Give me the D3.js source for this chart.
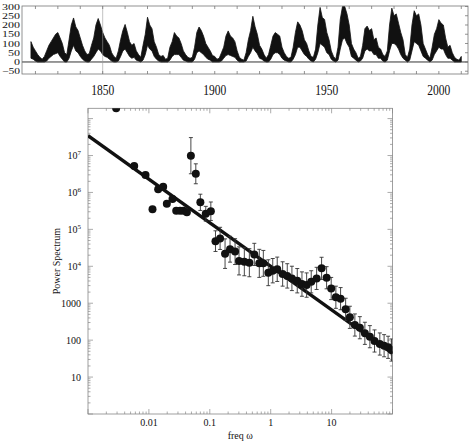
<!DOCTYPE html>
<html>
<head>
<meta charset="utf-8">
<script src="https://cdn.jsdelivr.net/npm/d3@7"></script>
<style>
  body { margin: 0; background: #fff; }
  text { font-family: "Liberation Serif", "DejaVu Serif", serif; fill: #111; }
</style>
</head>
<body>
<svg id="chart" width="470" height="443"></svg>
<script>
// ---- top panel: yearly sunspot number envelope (monthly max / min), 1818-2010
const firstYear = 1818;
const spotHigh = [
  110, 80, 60, 40, 25, 15, 30, 60, 90, 110, 130, 150, 159, 130, 100, 50, 40, 120, 200, 238,
  190, 170, 130, 90, 60, 40, 45, 90, 130, 200, 235, 200, 160, 130, 110, 90, 50, 30, 20, 60,
  120, 170, 203, 160, 110, 90, 100, 60, 40, 25, 90, 150, 242, 200, 180, 110, 80, 40, 30, 35,
  15, 20, 80, 110, 159, 140, 130, 100, 60, 40, 25, 20, 25, 80, 160, 189, 170, 140, 100, 80,
  60, 35, 30, 15, 20, 50, 80, 140, 168, 140, 130, 110, 60, 25, 15, 10, 50, 120, 170, 247,
  190, 150, 90, 70, 40, 20, 40, 90, 140, 159, 150, 140, 80, 50, 30, 20, 25, 80, 160, 217,
  200, 170, 120, 100, 60, 30, 25, 70, 200, 295, 240, 230, 160, 120, 60, 30, 15, 80, 230, 300,
  300, 260, 200, 100, 70, 50, 20, 30, 90, 180, 194, 170, 180, 120, 130, 80, 70, 40, 30, 60,
  200, 291, 250, 260, 210, 160, 120, 40, 25, 70, 200, 277, 250, 260, 200, 100, 70, 40, 20, 80,
  150, 180, 229, 210, 200, 130, 80, 90, 50, 25, 15, 10, 30
];
const spotLow = [
  20, 15, 5, 0, 0, 0, 0, 5, 20, 30, 40, 45, 50, 30, 15, 0, 0, 20, 60, 90,
  60, 50, 30, 15, 5, 0, 0, 15, 30, 50, 70, 60, 40, 30, 25, 15, 5, 0, 0, 5,
  30, 60, 70, 50, 30, 20, 25, 10, 5, 0, 10, 40, 90, 70, 60, 30, 15, 5, 0, 0,
  0, 0, 10, 30, 40, 40, 40, 25, 10, 5, 0, 0, 0, 15, 50, 60, 50, 40, 25, 15,
  10, 0, 0, 0, 0, 5, 20, 35, 40, 35, 30, 25, 10, 0, 0, 0, 5, 30, 50, 80,
  60, 45, 20, 15, 5, 0, 0, 15, 40, 50, 50, 40, 20, 10, 5, 0, 0, 15, 40, 80,
  80, 60, 40, 30, 15, 5, 0, 15, 50, 100, 90, 80, 50, 40, 15, 5, 0, 10, 70, 120,
  130, 100, 80, 30, 20, 10, 0, 5, 20, 60, 70, 60, 60, 40, 40, 20, 20, 5, 0, 10,
  60, 100, 100, 90, 70, 40, 20, 10, 0, 10, 60, 110, 100, 90, 60, 30, 20, 10, 0, 10,
  40, 60, 80, 70, 70, 40, 20, 20, 10, 0, 0, 0, 0
];
const yearTicks = [1850, 1900, 1950, 2000];
const spotTicks = [-50, 0, 50, 100, 150, 200, 250, 300];

// ---- bottom panel: power spectrum estimates
const freq = [
  0.0029, 0.00574, 0.0088, 0.01146, 0.0142, 0.01715, 0.0197, 0.0244, 0.0281, 0.0326,
  0.0369, 0.042, 0.0489, 0.0589, 0.070, 0.0859, 0.104, 0.124, 0.1476, 0.178,
  0.215, 0.26, 0.302, 0.369, 0.446, 0.538, 0.65, 0.757, 0.914, 1.08,
  1.28, 1.57, 1.87, 2.23, 2.73, 3.26, 3.89, 4.63, 5.68, 6.85,
  8.28, 9.85, 11.75, 14.05, 17, 19.95, 24.1, 29.1, 35.2, 42.5,
  50.7, 61.9, 72.8, 84.7, 96.4
];
const power = [
  1.9e8, 5.2e6, 2.96e6, 3.5e5, 1.22e6, 1.43e6, 4.95e5, 6.6e5, 3.2e5, 3.2e5,
  3.2e5, 2.9e5, 9.9e6, 3.2e6, 5.4e5, 2.65e5, 3.1e5, 4.8e4, 5.7e4, 2.2e4,
  2.9e4, 2.5e4, 1.4e4, 1.33e4, 1.25e4, 2.1e4, 1.2e4, 1.2e4, 6700, 7600,
  8300, 6200, 5500, 4700, 4070, 3300, 3100, 3800, 4700, 8800,
  4900, 2500, 1450, 1330, 684, 415, 257, 217, 153, 124,
  95, 78.6, 70.7, 64, 54
];
// half-width of the error bar, in decades
const errDec = [
  0, 0, 0, 0, 0, 0, 0, 0, 0, 0,
  0, 0, 0.49, 0.27, 0.22, 0.2, 0.25, 0.28, 0.3, 0.4,
  0.35, 0.35, 0.38, 0.38, 0.38, 0.3, 0.38, 0.35, 0.35, 0.33,
  0.33, 0.33, 0.33, 0.33, 0.33, 0.33, 0.33, 0.3, 0.3, 0.3,
  0.3, 0.3, 0.3, 0.3, 0.3, 0.3, 0.3, 0.3, 0.3, 0.3,
  0.3, 0.3, 0.3, 0.3, 0.3
];
const fitAmp = 1e4, fitExp = -1.18;
const freqLabels = [0.01, 0.1, 1, 10];
const powerLabels = [10, 100, 1000, 1e4, 1e5, 1e6, 1e7];

const svg = d3.select('#chart');

// ================= top panel =================
const tx = d3.scaleLinear().domain([1814, 2013]).range([22, 468]);
const ty = d3.scaleLinear().domain([-65, 300]).range([74, 6.5]);
const topG = svg.append('g');

topG.append('clipPath').attr('id', 'clipTop')
  .append('rect').attr('x', 22).attr('y', 6).attr('width', 446).attr('height', 68);

const spots = spotHigh.map((h, i) => ({ year: firstYear + i, hi: h, lo: spotLow[i] }));

topG.append('path')
  .datum(spots)
  .attr('clip-path', 'url(#clipTop)')
  .attr('fill', '#111')
  .attr('stroke', '#111')
  .attr('stroke-width', 0.8)
  .attr('d', d3.area().x(d => tx(d.year)).y0(d => ty(d.lo)).y1(d => ty(d.hi)));

// axis lines
topG.append('line').attr('x1', 22).attr('x2', 468).attr('y1', ty(0)).attr('y2', ty(0))
  .attr('stroke', '#333').attr('stroke-width', 1);
topG.append('line').attr('x1', tx(1850)).attr('x2', tx(1850)).attr('y1', 6).attr('y2', 74)
  .attr('stroke', '#999').attr('stroke-width', 0.6);

topG.append('rect').attr('x', 22).attr('y', 6).attr('width', 446).attr('height', 68)
  .attr('fill', 'none').attr('stroke', '#777').attr('stroke-width', 0.8);

// frame ticks
const decadeTicks = d3.range(1820, 2011, 10);
topG.selectAll('.tkb').data(decadeTicks).join('line')
  .attr('x1', d => tx(d)).attr('x2', d => tx(d)).attr('y1', 74).attr('y2', 71)
  .attr('stroke', '#777').attr('stroke-width', 0.8);
topG.selectAll('.tkt').data(decadeTicks).join('line')
  .attr('x1', d => tx(d)).attr('x2', d => tx(d)).attr('y1', 6).attr('y2', 9)
  .attr('stroke', '#777').attr('stroke-width', 0.8);
topG.selectAll('.tkr').data(spotTicks).join('line')
  .attr('x1', 468).attr('x2', 465).attr('y1', d => ty(d)).attr('y2', d => ty(d))
  .attr('stroke', '#777').attr('stroke-width', 0.8);

// tightly packed y labels, tall and narrow like the original
topG.selectAll('.ylab').data(spotTicks).join('text')
  .attr('x', 20).attr('y', d => ty(d) + 3.2)
  .attr('text-anchor', 'end')
  .attr('font-size', 9)
  .attr('textLength', d => String(d).length * 6)
  .attr('lengthAdjust', 'spacingAndGlyphs')
  .text(d => d < 0 ? '\u2212' + Math.abs(d) : d);

topG.selectAll('.xlab').data(yearTicks).join('text')
  .attr('x', d => tx(d) - 11.5).attr('y', 95)
  .attr('font-size', 15)
  .attr('textLength', 23)
  .attr('lengthAdjust', 'spacingAndGlyphs')
  .text(d => d);

// ================= bottom panel =================
const L = 88, R = 392.5, T = 108.3, B = 414;
const fx = d3.scaleLog().domain([0.001, 100]).range([L, R]);
const fy = d3.scaleLog().domain([1, 1.9e8]).range([B, T]);
const bot = svg.append('g');

bot.append('clipPath').attr('id', 'clipBot')
  .append('rect').attr('x', L).attr('y', T).attr('width', R - L).attr('height', B - T);

bot.append('rect').attr('x', L).attr('y', T).attr('width', R - L).attr('height', B - T)
  .attr('fill', 'none').attr('stroke', '#888').attr('stroke-width', 0.8);

// log ticks on all four sides
const xt = fx.ticks(), yt = fy.ticks();
const isMajor = v => Math.abs(Math.log10(v) - Math.round(Math.log10(v))) < 1e-6;
const tickG = bot.append('g').attr('stroke', '#888').attr('stroke-width', 0.7);
xt.forEach(v => {
  const len = isMajor(v) ? 5 : 2.5;
  tickG.append('line').attr('x1', fx(v)).attr('x2', fx(v)).attr('y1', B).attr('y2', B - len);
  tickG.append('line').attr('x1', fx(v)).attr('x2', fx(v)).attr('y1', T).attr('y2', T + len);
});
yt.forEach(v => {
  const len = isMajor(v) ? 5 : 2.5;
  tickG.append('line').attr('x1', L).attr('x2', L + len).attr('y1', fy(v)).attr('y2', fy(v));
  tickG.append('line').attr('x1', R).attr('x2', R - len).attr('y1', fy(v)).attr('y2', fy(v));
});

const plot = bot.append('g').attr('clip-path', 'url(#clipBot)');

// power-law fit
plot.append('path')
  .datum(fx.domain())
  .attr('fill', 'none')
  .attr('stroke', '#111')
  .attr('stroke-width', 3.4)
  .attr('d', d3.line().x(d => fx(d)).y(d => fy(fitAmp * Math.pow(d, fitExp))));

const pts = freq.map((f, i) => ({ f: f, p: power[i], e: errDec[i] }));

// error bars
const bars = plot.selectAll('.err').data(pts.filter(d => d.e > 0)).join('g')
  .attr('stroke', '#333').attr('stroke-width', 0.9);
bars.append('line')
  .attr('x1', d => fx(d.f)).attr('x2', d => fx(d.f))
  .attr('y1', d => fy(d.p * Math.pow(10, d.e))).attr('y2', d => fy(d.p / Math.pow(10, d.e)));
bars.append('line')
  .attr('x1', d => fx(d.f) - 2).attr('x2', d => fx(d.f) + 2)
  .attr('y1', d => fy(d.p * Math.pow(10, d.e))).attr('y2', d => fy(d.p * Math.pow(10, d.e)));
bars.append('line')
  .attr('x1', d => fx(d.f) - 2).attr('x2', d => fx(d.f) + 2)
  .attr('y1', d => fy(d.p / Math.pow(10, d.e))).attr('y2', d => fy(d.p / Math.pow(10, d.e)));

plot.selectAll('.pt').data(pts).join('circle')
  .attr('cx', d => fx(d.f)).attr('cy', d => fy(d.p))
  .attr('r', 4).attr('fill', '#111');

// tick labels
bot.selectAll('.fl').data(freqLabels).join('text')
  .attr('x', d => fx(d)).attr('y', 426)
  .attr('text-anchor', 'middle').attr('font-size', 10)
  .text(d => d);

const pl = bot.selectAll('.pl').data(powerLabels).join('text')
  .attr('x', 81).attr('y', d => fy(d) + 3.5)
  .attr('text-anchor', 'end').attr('font-size', 10);
pl.each(function (d) {
  const t = d3.select(this);
  if (d <= 1000) { t.text(d); return; }
  t.append('tspan').text('10');
  t.append('tspan').attr('dy', -4).attr('font-size', 7).text(Math.round(Math.log10(d)));
});

bot.append('text')
  .attr('transform', `translate(60,${(T + B) / 2}) rotate(-90)`)
  .attr('text-anchor', 'middle').attr('font-size', 10)
  .text('Power Spectrum');

bot.append('text')
  .attr('x', (L + R) / 2).attr('y', 439)
  .attr('text-anchor', 'middle').attr('font-size', 10)
  .text('freq \u03c9');
</script>
</body>
</html>
